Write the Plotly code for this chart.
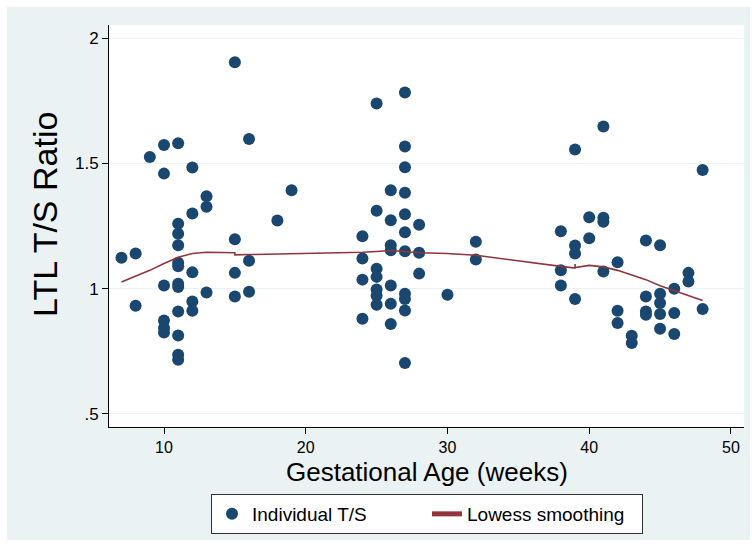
import plotly.graph_objects as go

# ---- data ----
weeks = (
    [7] + [8] * 2 + [9] + [10] * 6 + [11] * 12 + [12] * 5 + [13] * 3 +
    [15] * 4 + [16] * 3 + [18] + [19] +
    [24] * 4 + [25] * 7 + [26] * 7 + [27] * 11 + [28] * 3 + [30] + [32] * 2 +
    [38] * 3 + [39] * 4 + [40] * 2 + [41] * 4 + [42] * 3 + [43] * 2 +
    [44] * 4 + [45] * 5 + [46] * 3 + [47] * 2 + [48] * 2
)
ratio = [
    1.123,
    1.140, 0.932,
    1.525,
    1.573, 1.459, 1.013, 0.873, 0.843, 0.825,
    1.580, 1.259, 1.219, 1.173, 1.103, 1.089, 1.020, 1.007, 0.909, 0.813, 0.736, 0.716,
    1.483, 1.300, 1.065, 0.949, 0.912,
    1.369, 1.327, 0.985,
    1.903, 1.197, 1.063, 0.969,
    1.597, 1.111, 0.988,
    1.272,
    1.393,
    1.209, 1.120, 1.036, 0.880,
    1.739, 1.311, 1.079, 1.047, 0.997, 0.972, 0.936,
    1.393, 1.273, 1.173, 1.153, 1.013, 0.940, 0.859,
    1.783, 1.567, 1.484, 1.383, 1.297, 1.225, 1.149, 0.980, 0.959, 0.913, 0.703,
    1.255, 1.143, 1.060,
    0.976,
    1.187, 1.116,
    1.229, 1.073, 1.013,
    1.555, 1.172, 1.140, 0.959,
    1.285, 1.201,
    1.647, 1.283, 1.267, 1.068,
    1.105, 0.912, 0.863,
    0.812, 0.783,
    1.192, 0.969, 0.909, 0.896,
    1.173, 0.980, 0.943, 0.899, 0.840,
    1.000, 0.903, 0.819,
    1.063, 1.029,
    1.473, 0.919,
]

lowess_x = [7, 8, 9, 10, 11, 12, 13, 15, 15, 16, 18, 19, 24, 25, 26, 27, 28,
            30, 32, 38, 39, 39, 39, 40, 41, 42, 43, 44, 45, 46, 47, 48]
lowess_y = [1.027, 1.049, 1.073, 1.100, 1.125, 1.140, 1.145, 1.143, 1.135, 1.136,
            1.138, 1.140, 1.145, 1.148, 1.152, 1.148, 1.143,
            1.140, 1.133, 1.089, 1.082, 1.098, 1.084, 1.093, 1.087, 1.073,
            1.056, 1.036, 1.012, 0.993, 0.975, 0.953]

x_ticks = [10, 20, 30, 40, 50]
y_ticks = [0.5, 1.0, 1.5, 2.0]
y_tick_labels = [".5", "1", "1.5", "2"]

NAVY = "#1a476f"
MAROON = "#90353b"
BG = "#eaf2f3"
FONT = "Liberation Sans, Arial, Helvetica, sans-serif"

fig = go.Figure()
fig.add_trace(go.Scatter(
    x=weeks, y=ratio, mode="markers", name="Individual T/S",
    marker=dict(color=NAVY, size=12, line=dict(width=0)),
))
fig.add_trace(go.Scatter(
    x=lowess_x, y=lowess_y, mode="lines", name="Lowess smoothing",
    line=dict(color=MAROON, width=1.6),
))

L, R, T, B = 109, 8, 25, 126
W, H = 752, 553
pw = W - L - R
ph = H - T - B

def px(xp):
    return (xp - L) / pw

def py(yp):
    return (H - B - yp) / ph

# white outer border around the light graph region
shapes = [
    dict(type="rect", xref="paper", yref="paper", x0=px(-5), x1=px(7), y0=py(560), y1=py(-5),
         fillcolor="white", line=dict(width=0), layer="below"),
    dict(type="rect", xref="paper", yref="paper", x0=px(-5), x1=px(760), y0=py(7), y1=py(-5),
         fillcolor="white", line=dict(width=0), layer="below"),
    dict(type="rect", xref="paper", yref="paper", x0=px(-5), x1=px(760), y0=py(560), y1=py(540),
         fillcolor="white", line=dict(width=0), layer="below"),
    dict(type="rect", xref="paper", yref="paper", x0=px(750), x1=px(760), y0=py(560), y1=py(-5),
         fillcolor="white", line=dict(width=0), layer="below"),
]

annotations = [
    dict(text="LTL T/S Ratio", textangle=-90, xref="paper", yref="paper",
         x=px(45), y=py(215), xanchor="center", yanchor="middle", showarrow=False,
         font=dict(size=34, family=FONT, color="black")),
    dict(text="Gestational Age (weeks)", xref="paper", yref="paper",
         x=px(427), y=py(472), xanchor="center", yanchor="middle", showarrow=False,
         font=dict(size=26, family=FONT, color="black")),
]

fig.update_layout(
    width=W, height=H,
    margin=dict(l=L, r=R, t=T, b=B, pad=0, autoexpand=False),
    paper_bgcolor=BG,
    plot_bgcolor="white",
    font=dict(family=FONT, color="black"),
    shapes=shapes,
    annotations=annotations,
    showlegend=True,
    legend=dict(
        orientation="h",
        x=px(211), y=py(494), xanchor="left", yanchor="top",
        bgcolor="white", bordercolor="#333333", borderwidth=1,
        font=dict(size=19, family=FONT, color="black"),
        entrywidth=170, entrywidthmode="pixels",
        itemsizing="constant",
    ),
)

fig.update_xaxes(
    range=[6.12, 50.92],
    tickvals=x_ticks,
    ticks="outside", ticklen=6, tickwidth=1, tickcolor="black",
    tickfont=dict(size=16, family=FONT, color="black"),
    showline=True, linecolor="black", linewidth=1,
    showgrid=False, zeroline=False, automargin=False,
)
fig.update_yaxes(
    range=[0.448, 2.052],
    tickvals=y_ticks, ticktext=y_tick_labels,
    ticks="outside", ticklen=6, tickwidth=1, tickcolor="black",
    tickfont=dict(size=17, family=FONT, color="black"),
    showline=True, linecolor="black", linewidth=1,
    showgrid=True, gridcolor=BG, gridwidth=1,
    zeroline=False, automargin=False,
)

fig.write_html("out.html", config={"displayModeBar": False},
               post_script="document.body.style.margin='0';")
